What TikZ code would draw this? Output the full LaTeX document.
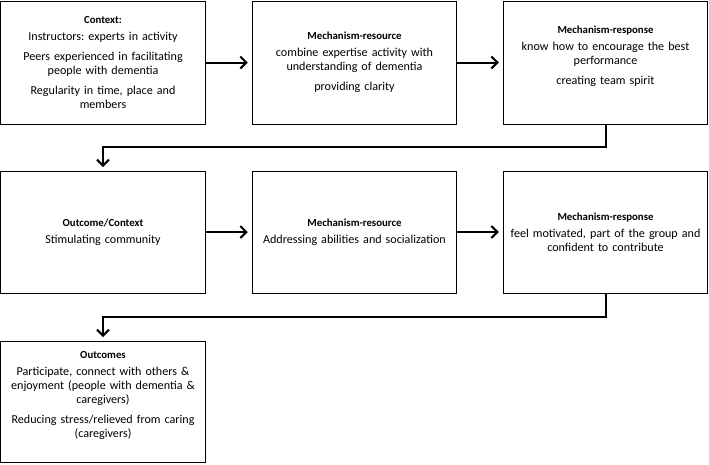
\documentclass[tikz,border=0pt]{standalone}
\usepackage{fontspec}
\setmainfont{Carlito}
\usetikzlibrary{arrows.meta}

\newcommand{\boxhead}[1]{{\fontsize{10.8}{14}\selectfont\bfseries #1}}
\frenchspacing

\begin{document}
\begin{tikzpicture}[x=1pt,y=-1pt,
	cmo/.style={draw,line width=1pt,text width=200pt,align=center,inner sep=0pt,
		minimum width=204.5pt,font=\fontsize{12.1}{14}\selectfont},
	flow/.style={line width=2pt,-{Straight Barb[length=6pt,width=12pt]},shorten >=4pt}]
			\useasboundingbox (0,0) rectangle (709,464);

			% first row
			\node[cmo,minimum height=123pt] (ctx) at (103,62.5) {\boxhead{Context:}\\[3pt]
				Instructors: experts in activity\\[6pt]
				Peers experienced in facilitating\\ people with dementia\\[6pt]
				Regularity in time, place and\\ members};
			\node[cmo,minimum height=123pt] (res) at (354.5,62.5) {\boxhead{Mechanism-resource}\\[3pt]
				combine expertise activity with\\ understanding of dementia\\[6pt]
				providing clarity};
			\node[cmo,minimum height=123pt] (resp) at (605.5,62.5) {\boxhead{Mechanism-response}\\[3pt]
				know how to encourage the best\\ performance\\[6pt]
				creating team spirit\\[1pt]\mbox{}};
			\draw[flow] (ctx) to (res);
			\draw[flow] (res) to (resp);
			\draw[flow] (resp.south) -- ++(0,22) -| (103,171);

			% second row
			\node[cmo,minimum height=122pt] (oc) at (103,232) {\boxhead{Outcome/Context}\\[3pt]
				Stimulating community};
			\node[cmo,minimum height=122pt] (res') at (354.5,232) {\boxhead{Mechanism-resource}\\[3pt]
				Addressing abilities and socialization};
			\node[cmo,minimum height=122pt] (resp') at (605.5,232) {\boxhead{Mechanism-response}\\[3pt]
				feel motivated, part of the group and\\ confident to contribute};
			\draw[flow] (oc) to (res');
			\draw[flow] (res') to (resp');
			\draw[flow] (resp'.south) -- ++(0,23) -| (oc.south |- 0,341);

			% outcomes
			\node[cmo,minimum height=121pt] (out) at (103,401.5) {\boxhead{Outcomes}\\[3pt]
				Participate, connect with others \&\\ enjoyment (people with dementia \&\\ caregivers)\\[6pt]
				Reducing stress/relieved from caring\\ (caregivers)\\[0pt]\mbox{}};
\end{tikzpicture}
\end{document}
